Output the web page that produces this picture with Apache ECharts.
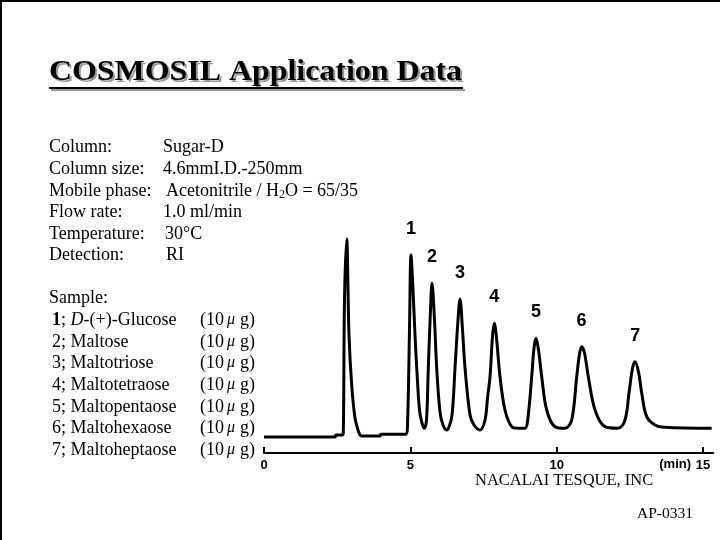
<!DOCTYPE html>
<html>
<head>
<meta charset="utf-8">
<script src="https://cdn.jsdelivr.net/npm/echarts@6/dist/echarts.min.js"></script>
<style>
html,body{margin:0;padding:0;background:#fff;}
#c{width:720px;height:540px;}
</style>
</head>
<body>
<div id="c"></div>
<script>
// Chromatogram trace: retention time (min) and detector signal (arbitrary units)
var timeMin = [0, 2.426, 2.46, 2.665, 2.709, 2.75, 2.825, 2.904, 2.996, 3.109, 3.211, 3.28, 3.348, 3.963, 3.997,
  4.851, 4.903, 4.971, 5.022, 5.091, 5.159, 5.251, 5.313, 5.388, 5.477, 5.552, 5.613, 5.688, 5.74, 5.825, 5.9,
  6.013, 6.116, 6.242, 6.32, 6.413, 6.47, 6.526, 6.628, 6.697, 6.782, 6.868, 7.039, 7.175, 7.38, 7.551, 7.636, 7.722,
  7.807, 7.868, 7.943, 8.063, 8.233, 8.462, 8.678, 8.917, 9.009, 9.146, 9.225, 9.293, 9.378, 9.488, 9.658, 9.942,
  10.284, 10.513, 10.684, 10.779, 10.854, 10.95, 11.08, 11.309, 11.65, 12.094, 12.333, 12.47, 12.59, 12.675,
  12.795, 12.904, 13.075, 13.358, 13.7, 15.295];
var signal = [16, 16, 18, 18, 20, 153, 214, 118, 68, 35, 23, 18, 17, 17, 18.7,
  18.7, 28, 123, 198, 163, 118, 68, 43, 31, 24.7, 33, 85, 143, 169.7, 133, 85,
  41, 28, 23, 26, 36, 55, 85, 133, 154, 123, 85, 38, 28, 23, 33, 55, 76.3,
  117, 129.7, 115, 76.3, 43, 26.3, 24.7, 24.7, 33, 76.3, 105, 114.7, 103, 76.3, 43, 26.3,
  24.7, 33, 76.3, 99, 106.3, 100, 76.3, 43, 26.3, 24.7, 33, 60, 85, 91.3,
  81, 60, 36.3, 28, 25.7, 24.7];

// Peak labels
var peakNames = ['1', '2', '3', '4', '5', '6', '7'];
var peakTimes = [5.02, 5.74, 6.70, 7.87, 9.29, 10.85, 12.68];
var peakHeights = [198, 170, 154, 130, 115, 106, 91];

// Axis ticks
var xTicks = [0, 5, 10, 15];

// Text content
var titleText = 'COSMOSIL Application Data';
var condLabels = ['Column:', 'Column size:', 'Mobile phase:', 'Flow rate:', 'Temperature:', 'Detection:'];
var condValues = ['Sugar-D', '4.6mmI.D.-250mm', 'Acetonitrile / H{sub|2}O = 65/35', '1.0 ml/min', '30°C', 'RI'];
var sampleNames = ['{b|1}{n|; }{i|D}{n|-(+)-Glucose}', '2; Maltose', '3; Maltotriose', '4; Maltotetraose',
  '5; Maltopentaose', '6; Maltohexaose', '7; Maltoheptaose'];
var sampleAmounts = ['(10{mu|μ}g)', '(10{mu|μ}g)', '(10{mu|μ}g)', '(10{mu|μ}g)', '(10{mu|μ}g)', '(10{mu|μ}g)', '(10{mu|μ}g)'];

var trace = timeMin.map(function (t, i) { return [t, signal[i]]; });
var peaks = peakTimes.map(function (t, i) { return { value: [t, peakHeights[i]], name: peakNames[i] }; });

var serif = '"Liberation Serif", "Times New Roman", serif';
var sans = '"Liberation Sans", Arial, sans-serif';

var graphics = [];
// frame lines (top & left)
graphics.push({ type: 'line', shape: { x1: 0, y1: 1, x2: 720, y2: 1 }, style: { stroke: '#000', lineWidth: 2 } });
graphics.push({ type: 'line', shape: { x1: 1, y1: 0, x2: 1, y2: 540 }, style: { stroke: '#000', lineWidth: 2 } });
// title with shadow
graphics.push({ type: 'text', x: 51, y: 75, scaleX: 1.1, style: { text: titleText, fill: '#9a9a9a', font: 'bold 29px ' + serif, textVerticalAlign: 'middle' } });
graphics.push({ type: 'line', shape: { x1: 51, y1: 90, x2: 465, y2: 90 }, style: { stroke: '#9a9a9a', lineWidth: 2 } });
graphics.push({ type: 'text', x: 49, y: 73, scaleX: 1.1, style: { text: titleText, fill: '#000', font: 'bold 29px ' + serif, textVerticalAlign: 'middle' } });
graphics.push({ type: 'line', shape: { x1: 49, y1: 88, x2: 463, y2: 88 }, style: { stroke: '#000', lineWidth: 2 } });

var condY = [147, 169, 191, 212, 234, 255];
var condX = [163, 163, 166, 163, 165, 166];
condLabels.forEach(function (s, i) {
  graphics.push({ type: 'text', x: 49, y: condY[i], style: { text: s, fill: '#000', font: '18px ' + serif, textVerticalAlign: 'middle' } });
  graphics.push({ type: 'text', x: condX[i], y: condY[i], style: {
    text: condValues[i], fill: '#000', font: '18px ' + serif, textVerticalAlign: 'middle',
    rich: { sub: { fontFamily: serif, fontSize: 12, verticalAlign: 'bottom', padding: [8, 0, 0, 0] } }
  } });
});
graphics.push({ type: 'text', x: 49, y: 298, style: { text: 'Sample:', fill: '#000', font: '18px ' + serif, textVerticalAlign: 'middle' } });
var sampY = [320, 342, 363, 385, 407, 428, 450];
sampleNames.forEach(function (s, i) {
  graphics.push({ type: 'text', x: 52, y: sampY[i], style: {
    text: s, fill: '#000', font: '18px ' + serif, textVerticalAlign: 'middle',
    rich: {
      n: { fontFamily: serif, fontSize: 18 },
      b: { fontFamily: serif, fontSize: 18, fontWeight: 'bold' },
      i: { fontFamily: serif, fontSize: 18, fontStyle: 'italic' }
    }
  } });
  graphics.push({ type: 'text', x: 200, y: sampY[i], style: {
    text: sampleAmounts[i], fill: '#000', font: '18px ' + serif, textVerticalAlign: 'middle',
    rich: { mu: { fontFamily: serif, fontSize: 16, fontStyle: 'italic', padding: [0, 5, 0, 3] } }
  } });
});
graphics.push({ type: 'text', x: 475, y: 481, style: { text: 'NACALAI TESQUE, INC', fill: '#000', font: '16.5px ' + serif, textVerticalAlign: 'middle' } });
graphics.push({ type: 'text', x: 637, y: 514, style: { text: 'AP-0331', fill: '#000', font: '15.5px ' + serif, textVerticalAlign: 'middle' } });

var chart = echarts.init(document.getElementById('c'));
chart.setOption({
  animation: false,
  backgroundColor: '#fff',
  grid: { left: 264, right: 6.7, top: 233, bottom: 87, containLabel: false },
  xAxis: {
    type: 'value', min: 0, max: 15.35,
    splitLine: { show: false },
    axisLine: { show: true, onZero: false, lineStyle: { color: '#000', width: 2 } },
    axisTick: { show: true, inside: true, length: 6, lineStyle: { color: '#000', width: 2 }, customValues: xTicks },
    axisLabel: { show: true, customValues: xTicks, color: '#000', fontFamily: sans, fontWeight: 'bold', fontSize: 13, margin: 6 }
  },
  yAxis: { type: 'value', min: 0, max: 220, show: false, splitLine: { show: false } },
  series: [
    {
      type: 'line', data: trace, symbol: 'none', smooth: 0.35,
      lineStyle: { color: '#000', width: 3 }, z: 3
    },
    {
      type: 'scatter', data: peaks, symbolSize: 0, silent: true,
      itemStyle: { opacity: 1, color: '#000' },
      label: { show: true, position: 'top', distance: 17, formatter: function (p) { return p.name; },
        color: '#000', opacity: 1, fontFamily: sans, fontWeight: 'bold', fontSize: 18 }
    }
  ],
  graphic: graphics
});
// "(min)" unit label next to the last tick
var p = chart.convertToPixel({ xAxisIndex: 0, yAxisIndex: 0 }, [14.59, 0]);
graphics.push({ type: 'text', x: p[0], y: p[1] + 11, style: { text: '(min)', fill: '#000', font: 'bold 13px ' + sans, textAlign: 'right', textVerticalAlign: 'middle' } });
chart.setOption({ graphic: graphics });
</script>
</body>
</html>
